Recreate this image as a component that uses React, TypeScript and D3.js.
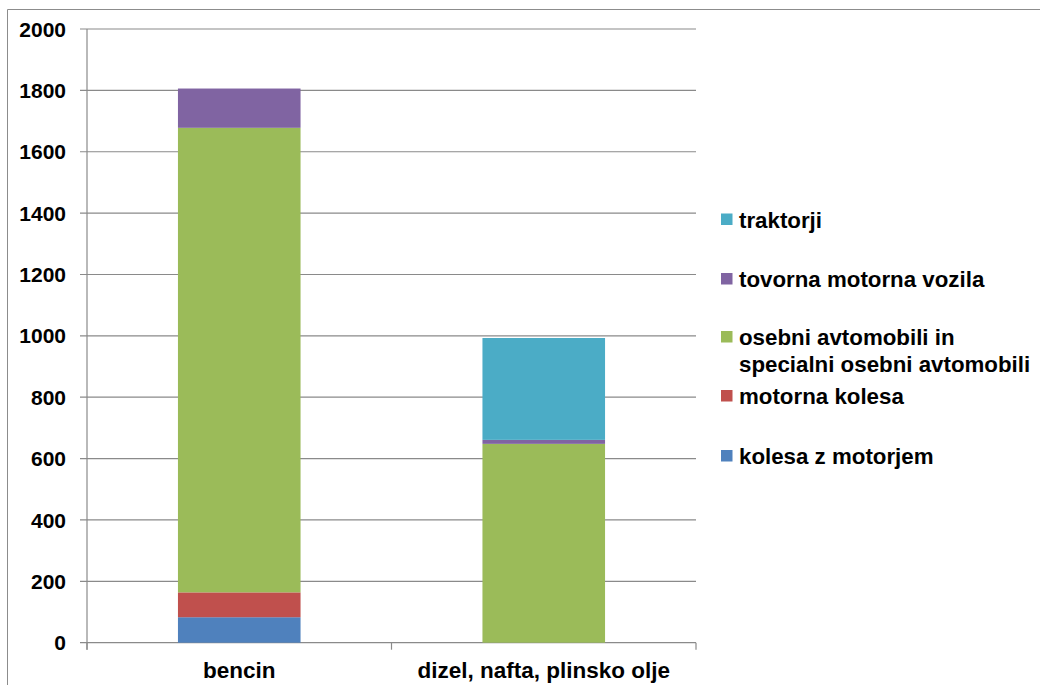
import React from "react";
import * as d3 from "d3";

// Fuel type categories (x axis)
const categories = ["bencin", "dizel, nafta, plinsko olje"];

// Vehicle groups, stacked bottom to top
const seriesNames = [
  "kolesa z motorjem",
  "motorna kolesa",
  "osebni avtomobili in specialni osebni avtomobili",
  "tovorna motorna vozila",
  "traktorji",
];

// Values per series, one entry per category
const kolesaZMotorjem = [83, 0];
const motornaKolesa = [81, 0];
const osebniAvtomobili = [1514, 648];
const tovornaVozila = [128, 13];
const traktorji = [0, 332];

const yTicks = [0, 200, 400, 600, 800, 1000, 1200, 1400, 1600, 1800, 2000];

const colors = ["#4F81BD", "#C0504D", "#9BBB59", "#8064A2", "#4BACC6"];

// Legend order (top to bottom) with wrapped label lines
const legendItems = [
  { idx: 4, lines: ["traktorji"] },
  { idx: 3, lines: ["tovorna motorna vozila"] },
  { idx: 2, lines: ["osebni avtomobili in", "specialni osebni avtomobili"] },
  { idx: 1, lines: ["motorna kolesa"] },
  { idx: 0, lines: ["kolesa z motorjem"] },
];

const W = 1040;
const H = 685;
const plot = { left: 87, right: 696, top: 29, bottom: 642.7 };
const font = "'Liberation Sans', Arial, sans-serif";

export default function App() {
  const seriesValues = [kolesaZMotorjem, motornaKolesa, osebniAvtomobili, tovornaVozila, traktorji];
  const rows = categories.map((c, i) => {
    const r: Record<string, any> = { category: c };
    seriesNames.forEach((s, j) => (r[s] = seriesValues[j][i]));
    return r;
  });
  const stacked = d3.stack<any>().keys(seriesNames)(rows);

  const x = d3.scaleBand().domain(categories).range([plot.left, plot.right]).paddingInner(0.5974).paddingOuter(0.2987);
  const xOuter = d3.scaleBand().domain(categories).range([plot.left, plot.right]);
  const y = d3.scaleLinear().domain([0, 2000]).range([plot.bottom, plot.top]);

  const legendX = 721;
  const legendYs = [219.5, 279, 337, 396, 456];

  return (
    <svg width={W} height={H} style={{ position: "absolute", left: 0, top: 0, background: "#fff" }}>
      {/* outer frame */}
      <line x1={7.5} y1={9.5} x2={W} y2={9.5} stroke="#8c8c8c" strokeWidth={1} />
      <line x1={7.5} y1={9.5} x2={7.5} y2={H} stroke="#8c8c8c" strokeWidth={1} />

      {/* gridlines, y ticks and labels */}
      {yTicks.map((t) => (
        <g key={t}>
          <line x1={80} x2={plot.right} y1={y(t)} y2={y(t)} stroke="#8a8a8a" strokeWidth={1.2} />
          <text x={66} y={y(t)} dy="0.36em" textAnchor="end" fontFamily={font} fontWeight="bold" fontSize={21} fill="#000">
            {t}
          </text>
        </g>
      ))}
      <line x1={plot.left} x2={plot.left} y1={plot.top} y2={plot.bottom + 7} stroke="#8a8a8a" strokeWidth={1.2} />

      {/* stacked bars */}
      {stacked.map((layer, j) =>
        layer.map((d, i) => {
          const h = y(d[0]) - y(d[1]);
          if (h <= 0) return null;
          return (
            <rect key={`${j}-${i}`} x={x(categories[i])} y={y(d[1])} width={x.bandwidth()} height={h} fill={colors[j]} />
          );
        })
      )}

      {/* x axis tick marks and category labels */}
      {[plot.left, ...categories.map((c) => (xOuter(c) as number) + xOuter.bandwidth())].map((px, i) => (
        <line key={i} x1={px} x2={px} y1={plot.bottom} y2={plot.bottom + 7} stroke="#8a8a8a" strokeWidth={1.2} />
      ))}
      {categories.map((c) => (
        <text key={c} x={(xOuter(c) as number) + xOuter.bandwidth() / 2} y={678} textAnchor="middle" fontFamily={font} fontWeight="bold" fontSize={22.5} fill="#000">
          {c}
        </text>
      ))}

      {/* legend */}
      {legendItems.map((item, k) => (
        <g key={item.idx}>
          <rect x={legendX} y={legendYs[k] - 6} width={11.5} height={11.5} fill={colors[item.idx]} />
          {item.lines.map((ln, li) => (
            <text key={li} x={739} y={legendYs[k] + li * 26.5} dy="0.36em" fontFamily={font} fontWeight="bold" fontSize={22.3} fill="#000">
              {ln}
            </text>
          ))}
        </g>
      ))}
    </svg>
  );
}
